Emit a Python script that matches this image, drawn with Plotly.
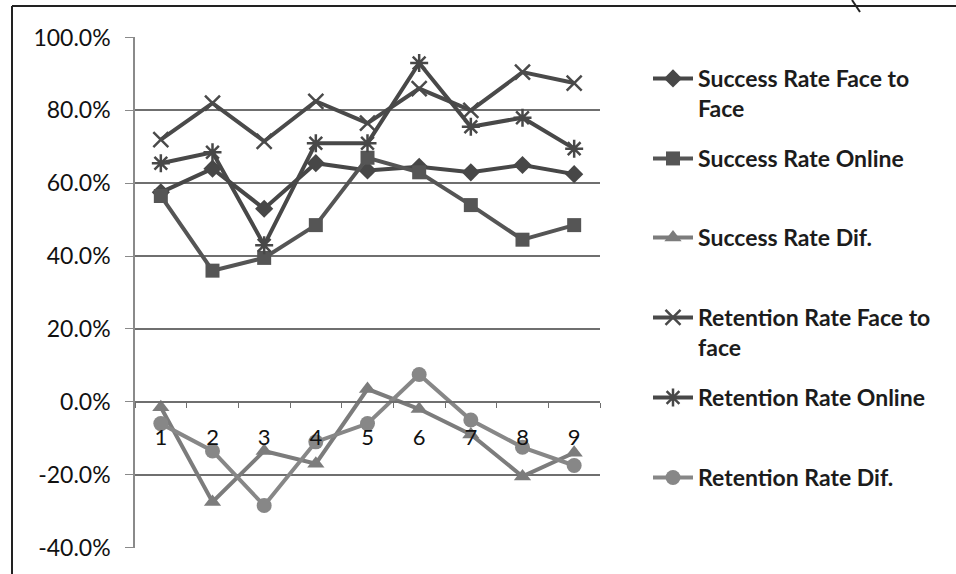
import plotly.graph_objects as go

# Course sections 1-9
sections = ["1", "2", "3", "4", "5", "6", "7", "8", "9"]

success_f2f = [57.5, 64.0, 53.0, 65.5, 63.5, 64.5, 63.0, 65.0, 62.5]
success_online = [56.5, 36.0, 39.5, 48.5, 67.0, 63.0, 54.0, 44.5, 48.5]
success_dif = [-1.5, -27.5, -13.5, -17.0, 3.5, -2.0, -9.0, -20.5, -14.0]
retention_f2f = [72.0, 82.0, 71.5, 82.5, 76.5, 86.0, 80.0, 90.5, 87.5]
retention_online = [65.5, 68.5, 43.0, 71.0, 71.0, 93.0, 75.5, 78.0, 69.5]
retention_dif = [-6.0, -13.5, -28.5, -11.0, -6.0, 7.5, -5.0, -12.5, -17.5]

y_ticks = [-40, -20, 0, 20, 40, 60, 80, 100]
y_ticktext = ["-40.0%", "-20.0%", "0.0%", "20.0%", "40.0%", "60.0%", "80.0%", "100.0%"]
y_range = [-40, 100]

series = [
    ("Success Rate Face to<br>Face", success_f2f, "diamond", "#474747", 14),
    ("Success Rate Online", success_online, "square", "#555555", 14),
    ("Success Rate Dif.", success_dif, "triangle-up", "#7c7c7c", 15),
    ("Retention Rate Face to<br>face", retention_f2f, "x-thin", "#4a4a4a", 15),
    ("Retention Rate Online", retention_online, "asterisk", "#484848", 15),
    ("Retention Rate Dif.", retention_dif, "circle", "#878787", 15),
]

FONT = "Lato"
TEXT = "#1c1c1c"

# pixel geometry of the plotting area
W, H = 956, 574
L, R, T, B = 135, 356, 37, 26
pw, ph = W - L - R, H - T - B


def px_x(x):
    return (x - L) / pw


def px_y(y):
    return (H - B - y) / ph


legend_rows = [77, 157, 236, 316, 396, 476]

fig = go.Figure()
layout_legends = {}
for i, (name, vals, sym, col, ms) in enumerate(series):
    key = "legend" if i == 0 else f"legend{i + 1}"
    open_sym = sym in ("x-thin", "asterisk")
    fig.add_trace(go.Scatter(
        x=sections, y=vals, name=name, mode="lines+markers",
        line=dict(color=col, width=4),
        marker=dict(symbol=sym + ("-open" if open_sym else ""), size=ms, color=col,
                    line=dict(color=col, width=2.5 if open_sym else 0)),
        legend=key,
    ))
    layout_legends[key] = dict(
        x=px_x(648), y=px_y(legend_rows[i] - 20), xanchor="left", yanchor="top",
        valign="top", bgcolor="rgba(0,0,0,0)",
        font=dict(family=FONT, size=23, color=TEXT, weight="bold"),
        itemwidth=40,
    )

fig.update_layout(
    width=W, height=H,
    margin=dict(l=L, r=R, t=T, b=B),
    paper_bgcolor="white", plot_bgcolor="white",
    font=dict(family=FONT, size=22, color=TEXT),
    showlegend=True,
    **layout_legends,
)

fig.update_yaxes(
    range=[y_range[0] - 0.15, y_range[1] + 0.15],
    tickvals=y_ticks, ticktext=y_ticktext,
    showgrid=True, gridcolor="#6f6f6f", gridwidth=1.5,
    zeroline=False,
    showline=True, linecolor="#8a8a8a", linewidth=1.5,
    ticks="outside", ticklen=8, tickcolor="#8a8a8a",
    ticklabelstandoff=10,
    tickfont=dict(family=FONT, size=23, color="#111111"),
)

fig.update_xaxes(
    type="category", range=[-0.5, len(sections) - 0.5],
    anchor="free", position=(0 - y_range[0]) / (y_range[1] - y_range[0]),
    showgrid=False, zeroline=False,
    showline=True, linecolor="#6f6f6f", linewidth=1.5,
    ticks="outside", tickson="boundaries", ticklen=5, tickcolor="#6f6f6f",
    ticklabelstandoff=16,
    tickfont=dict(family=FONT, size=22, color="#111111"),
)

# outer chart frame (top and left edges)
fig.add_shape(type="line", xref="paper", yref="paper",
              x0=px_x(12), x1=px_x(W), y0=px_y(6), y1=px_y(6),
              line=dict(color="#222222", width=2))
fig.add_shape(type="line", xref="paper", yref="paper",
              x0=px_x(12), x1=px_x(12), y0=px_y(6), y1=px_y(H),
              line=dict(color="#222222", width=2))
fig.add_shape(type="line", xref="paper", yref="paper",
              x0=px_x(852), x1=px_x(860), y0=px_y(0), y1=px_y(12),
              line=dict(color="#222222", width=2))

fig.write_html("out.html")
